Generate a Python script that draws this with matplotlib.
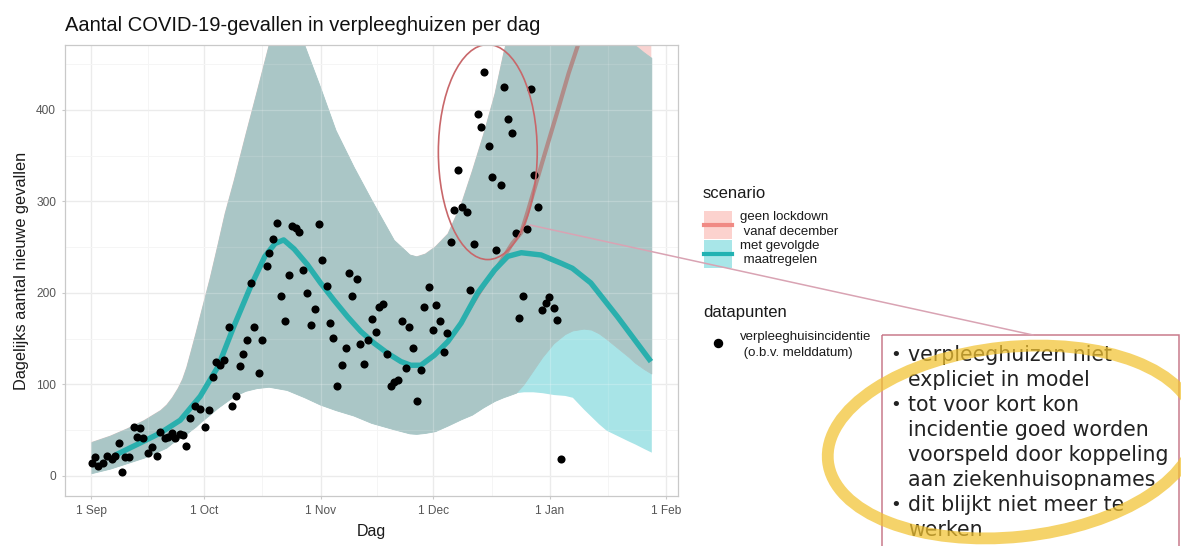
import numpy as np
import matplotlib.pyplot as plt
from matplotlib.patches import Ellipse, Rectangle

plt.rcParams['font.family'] = ['Liberation Sans', 'DejaVu Sans']

# dagen na 1 september, dagelijkse verpleeghuisincidentie
punt_dag = [0.2, 1.1, 1.9, 3.1, 4.2, 5.5, 6.4, 7.3, 8.2, 9.1, 10.1, 11.3, 12.3, 12.9,
            13.9, 15, 16.2, 17.5, 18.4, 19.5, 20.4, 21.5, 22.4, 23.5, 24.4, 25.3, 26.4,
            27.5, 28.9, 30.4, 31.3, 32.4, 33.1, 34.2, 35.3, 36.6, 37.5, 38.4, 39.5, 40.4,
            41.5, 42.4, 43.3, 44.6, 45.5, 46.7, 47.3, 48.4, 49.5, 50.4, 51.5, 52.6, 53.5,
            54.4, 55.3,
            56.4, 57.5, 58.4, 59.5, 60.6, 61.5, 62.6, 63.6, 64.4, 65.5, 66.6, 67.7, 68.6,
            69.5, 70.7, 71.6, 72.6, 73.7, 74.6, 75.7, 76.6, 77.7, 78.7, 79.7, 80.6, 81.5,
            82.6, 83.7, 84.6, 85.7, 86.7, 87.7, 88.6, 89.8, 90.8, 91.7, 92.8, 93.8, 94.7,
            95.7, 96.6, 97.7, 98.6, 99.9, 100.9, 101.8, 102.8, 103.7, 104.6, 105.8, 106.6,
            107.8, 108.9, 109.8, 110.8, 111.9, 112.9, 113.9, 114.9, 115.8, 116.9, 117.9,
            118.8, 119.9, 121, 121.9, 123.1, 124, 124.9]
punt_waarde = [14.5, 21, 11, 14.5, 22, 19, 22, 36, 4, 21, 21, 53, 43, 52,
               42, 25, 32, 22, 48, 41, 43, 47, 41, 46, 45, 33, 63,
               76, 73, 54, 72, 108, 125, 121, 127, 163, 76, 87, 120, 133,
               149, 211, 163, 112, 149, 229, 244, 259, 277, 197, 169, 220, 273,
               271, 267,
               225, 200, 165, 182, 275, 236, 208, 167, 151, 98, 121, 140, 222,
               197, 215, 144, 122, 149, 172, 157, 185, 188, 133, 98, 103, 105,
               169, 118, 163, 140, 82, 116, 185, 206, 160, 187, 169, 135, 156,
               256, 291, 334, 294, 288, 203, 253, 396, 381, 441, 361, 327,
               247, 318, 425, 390, 375, 266, 173, 197, 270, 423, 329,
               294, 181, 189, 196, 184, 170, 18.6]

# modelbanden per scenario
band_dag = [0, 5, 9.5, 14, 18.4, 20, 21.5, 23, 24.2, 25.3, 26.5, 27.8, 29.1, 31.5, 33.5,
            35.5, 37.9, 41, 44, 47.2, 52, 56.7, 60.9, 65, 69.8, 74.5, 80.5, 84.7, 86.5,
            88.8, 91.5, 94.8, 98.4, 101.3, 104.3, 107.3, 109.6, 111, 113, 115, 117.5,
            120, 123, 126, 128, 131, 133, 135, 137, 140, 143, 144.6, 147, 149]
gevolgd_onder = [3, 8, 14, 20, 28, 31, 36, 40, 43, 46, 50, 54, 59, 67, 74,
                 80, 87, 93, 96, 97.5, 94, 86, 78, 72, 66, 58, 51, 46.5, 46,
                 47, 49, 55, 62, 67, 75, 82, 86, 88, 91, 92, 92,
                 91, 89, 88, 86, 73, 65, 57, 50, 44, 38, 35, 30, 26]
gevolgd_boven = [37, 44, 52, 61, 72, 78, 86, 96, 106, 119, 137, 157, 178, 216, 251,
                 287, 323, 373, 420, 471, 540, 471, 425, 378, 338, 302, 258, 242, 240,
                 243, 251, 265, 298, 334, 374, 418, 462, 485, 510, 530, 545,
                 555, 560, 560, 558, 552, 545, 535, 520, 500, 482, 471, 463, 457]
lockdown_onder = [3, 8, 14, 20, 28, 31, 36, 40, 43, 46, 50, 54, 59, 67, 74,
                  80, 87, 93, 96, 97.5, 94, 86, 78, 72, 66, 58, 51, 46.5, 46,
                  47, 49, 55, 62, 67, 75, 82, 86, 88, 91, 100, 115,
                  130, 145, 155, 159, 161, 160, 156, 150, 140, 130, 124, 117, 112]
lockdown_boven = [37, 44, 52, 61, 72, 78, 86, 96, 106, 119, 137, 157, 178, 216, 251,
                  287, 323, 373, 420, 471, 540, 471, 425, 378, 338, 302, 258, 242, 240,
                  243, 251, 265, 298, 334, 374, 418, 462, 485, 520, 550, 580,
                  600, 600, 600, 600, 600, 600, 600, 600, 600, 600, 600, 600, 600]

gevolgd_lijn_dag = [6.5, 10, 13, 18.4, 23.7, 29, 33.8, 37.9, 42.4, 46.2, 48.9, 51.2, 54,
                    57.5, 61, 64.6, 68.2, 71.7, 75.3, 78.9, 82.4, 85, 87.7, 91.3, 94.9,
                    98.4, 102.8, 107.3, 110.8, 114.4, 119.7, 125, 128, 132.9, 140, 148.9]
gevolgd_lijn = [23, 30, 36, 47, 61, 87, 120, 163, 207, 240, 254, 258, 248,
                231, 211, 192, 174, 158, 145, 134, 125, 121, 121, 132, 147,
                167, 200, 225, 240, 244, 241.5, 232.5, 227, 211, 174, 125]
lockdown_lijn_dag = [100, 105, 108, 110, 112, 114.4, 116.2, 120, 124, 127, 129.5, 132]
lockdown_lijn = [179, 212, 228, 241, 254, 266, 290, 343, 398, 440, 471, 505]

maand_dag = [0, 30, 61, 91, 122, 153]
maand_label = ['1 Sep', '1 Oct', '1 Nov', '1 Dec', '1 Jan', '1 Feb']
tussen_dag = [15, 45.5, 76, 106.5, 137.5]

GRIJS = '#AAC6C6'
CYAAN_BAND = '#A8E4E7'
ROZE_BAND = '#F8D3D1'
RAND = '#c9c9c9'

fig = plt.figure(figsize=(11.81, 5.46), dpi=100)
ax = fig.add_axes([65 / 1181, 50 / 546, 613 / 1181, 451 / 546])

# banden: eerst elk scenario apart, daarna de overlap
ax.fill_between(band_dag, gevolgd_onder, gevolgd_boven, color=CYAAN_BAND, lw=0, zorder=2)
ax.fill_between(band_dag, lockdown_onder, lockdown_boven, color=ROZE_BAND, lw=0, zorder=2)
ax.fill_between(band_dag, np.maximum(gevolgd_onder, lockdown_onder),
                np.minimum(gevolgd_boven, lockdown_boven),
                facecolor=GRIJS, edgecolor=GRIJS, lw=0.6, zorder=2)

# rasterlijnen die licht door de banden schemeren
for d in maand_dag + tussen_dag:
    ax.axvline(d, color='white', alpha=0.22 if d in maand_dag else 0.12, lw=0.9, zorder=2.2)
for w in range(0, 500, 50):
    ax.axhline(w, color='white', alpha=0.22 if w % 100 == 0 else 0.12, lw=0.9, zorder=2.2)

ax.plot(lockdown_lijn_dag, lockdown_lijn, color='#B08C89', lw=3, zorder=2.5)
ax.plot(gevolgd_lijn_dag, gevolgd_lijn, color='#2AAFAD', lw=3.9, zorder=3,
        solid_capstyle='butt')
ax.scatter(punt_dag, punt_waarde, s=34, color='black', lw=0, zorder=4)

ax.add_patch(Ellipse((105.5, 354), 26.3, 235, fill=False, edgecolor='#c8676a',
                     lw=1.2, zorder=5))

ax.set_xlim(-6.97, 156.1)
ax.set_ylim(-21.9, 471)
ax.set_xticks(maand_dag)
ax.set_xticklabels(maand_label)
ax.set_xticks(tussen_dag, minor=True)
ax.set_yticks([0, 100, 200, 300, 400])
ax.set_yticks([50, 150, 250, 350, 450], minor=True)
ax.set_axisbelow(True)
ax.grid(which='major', color='#e6e6e6', lw=0.9)
ax.grid(which='minor', color='#f3f3f3', lw=0.6)
ax.tick_params(which='major', length=2.5, width=0.8, color=RAND, labelsize=8.6,
               labelcolor='#555555', pad=4)
ax.tick_params(which='minor', length=0)
for s in ax.spines.values():
    s.set_color(RAND)
    s.set_linewidth(0.9)
    s.set_zorder(6)

ax.set_xlabel('Dag', fontsize=11.5, color='#1a1a1a')
ax.xaxis.set_label_coords(0.5, -0.062)
ax.set_ylabel('Dagelijks aantal nieuwe gevallen', fontsize=11.8, color='#1a1a1a')
ax.yaxis.set_label_coords(-0.058, 0.5)

fig.text(65 / 1181, 1 - 31 / 546, 'Aantal COVID-19-gevallen in verpleeghuizen per dag',
         fontsize=14.5, ha='left', va='baseline', color='#111111')

# overlay in pixels voor legenda en toelichting
ov = fig.add_axes([0, 0, 1, 1], zorder=10)
ov.set_xlim(0, 1181)
ov.set_ylim(546, 0)
ov.axis('off')

ov.text(703, 193, 'scenario', fontsize=12, va='center', ha='left', color='#1a1a1a')
ov.add_patch(Rectangle((704, 211), 28, 28, facecolor='#FCD2CE', edgecolor='none'))
ov.plot([704, 732], [225, 225], color='#F08A84', lw=3)
ov.add_patch(Rectangle((704, 240), 28, 28, facecolor='#A8E6E8', edgecolor='none'))
ov.plot([704, 732], [254, 254], color='#22B2B2', lw=3)
for y, t in [(217, 'geen lockdown'), (232, ' vanaf december'),
             (246, 'met gevolgde'), (260, ' maatregelen')]:
    ov.text(740, y, t, fontsize=9.5, va='center', ha='left', color='#1a1a1a')

ov.text(703, 312, 'datapunten', fontsize=12, va='center', ha='left', color='#1a1a1a')
ov.plot([718], [343], 'o', ms=5.8, color='black')
ov.text(740, 337, 'verpleeghuisincidentie', fontsize=9.5, va='center', ha='left',
        color='#1a1a1a')
ov.text(740, 353, ' (o.b.v. melddatum)', fontsize=9.5, va='center', ha='left',
        color='#1a1a1a')

# verbindingslijn en tekstvak
ov.plot([530, 1033], [225, 335], color='#d9a3b3', lw=1.1)
ov.add_patch(Rectangle((882, 335), 297, 220, fill=False, edgecolor='#c97a8c', lw=1.1))

regels = [('•', 'verpleeghuizen niet'), ('', 'expliciet in model'),
          ('•', 'tot voor kort kon'), ('', 'incidentie goed worden'),
          ('', 'voorspeld door koppeling'), ('', 'aan ziekenhuisopnames'),
          ('•', 'dit blijkt niet meer te'), ('', 'werken')]
for i, (b, t) in enumerate(regels):
    y = 355 + 25 * i
    if b:
        ov.text(890, y, b, fontsize=13, va='center', ha='left', color='#222222',
                family='DejaVu Sans')
    ov.text(908, y, t, fontsize=14.8, va='center', ha='left', color='#222222',
            family='DejaVu Sans')

ov.add_patch(Ellipse((1012, 442), 370, 190, angle=-6, fill=False,
                     edgecolor='#F2C230', lw=8.5, alpha=0.72, zorder=20))

fig.savefig('out.png', dpi=100)
